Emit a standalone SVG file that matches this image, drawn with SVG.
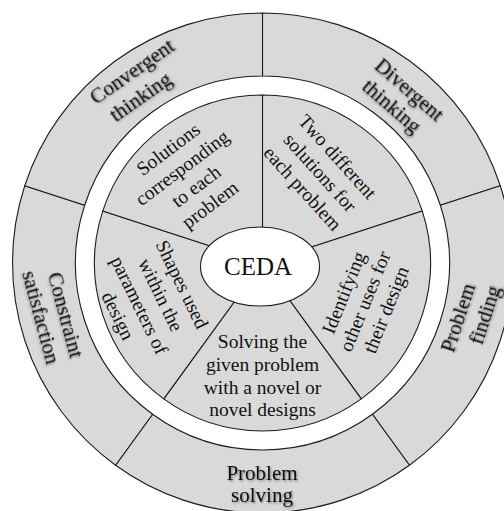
<svg xmlns="http://www.w3.org/2000/svg" width="504" height="511" viewBox="0 0 504 511">
  <style>
    .seg { fill: #d9d9d9; stroke: #1c1c1c; stroke-width: 1.1; stroke-linejoin: round; }
    .hub { fill: #ffffff; stroke: #1c1c1c; stroke-width: 1.1; }
    text { font-family: "Liberation Serif", "Times New Roman", serif; fill: #111111; text-anchor: middle; }
    .outer { font-size: 21px; filter: url(#soft); }
    .inner { font-size: 19.5px; }
    .core { font-size: 25px; }
  </style>
  <defs>
    <filter id="soft" x="-20%" y="-40%" width="140%" height="180%">
      <feDropShadow dx="1" dy="1.2" stdDeviation="1.1" flood-color="#000000" flood-opacity="0.45"/>
    </filter>
  </defs>

  <rect width="504" height="511" fill="#ffffff"/>

  <!-- outer ring: five stages of the process -->
  <g id="divergent-thinking">
    <path class="seg" d="M262.5,13 A250,250 0 0 1 500.26,185.75 L440.35,205.21 A187,187 0 0 0 262.5,76 Z"/>
    <text class="outer" transform="translate(409.5,89.5) rotate(41)" y="7">Divergent</text>
    <text class="outer" transform="translate(391.9,105.9) rotate(41)" y="7">thinking</text>
  </g>
  <g id="problem-finding">
    <path class="seg" d="M500.26,185.75 A250,250 0 0 1 409.45,465.25 L372.42,414.29 A187,187 0 0 0 440.35,205.21 Z"/>
    <text class="outer" transform="translate(457.8,317.8) rotate(-72)" y="7">Problem</text>
    <text class="outer" transform="translate(484.6,315) rotate(-72)" y="7">finding</text>
  </g>
  <g id="problem-solving">
    <path class="seg" d="M409.45,465.25 A250,250 0 0 1 115.55,465.25 L152.58,414.29 A187,187 0 0 0 372.42,414.29 Z"/>
    <text class="outer" x="262" y="479.5">Problem</text>
    <text class="outer" x="262" y="502">solving</text>
  </g>
  <g id="constraint-satisfaction">
    <path class="seg" d="M115.55,465.25 A250,250 0 0 1 24.74,185.75 L84.65,205.21 A187,187 0 0 0 152.58,414.29 Z"/>
    <text class="outer" transform="translate(65.8,314.8) rotate(75)" y="7">Constraint</text>
    <text class="outer" transform="translate(41.1,317.2) rotate(75)" y="7">satisfaction</text>
  </g>
  <g id="convergent-thinking">
    <path class="seg" d="M24.74,185.75 A250,250 0 0 1 262.5,13 L262.5,76 A187,187 0 0 0 84.65,205.21 Z"/>
    <text class="outer" transform="translate(131.8,71.4) rotate(-35)" y="7">Convergent</text>
    <text class="outer" transform="translate(140.3,96.7) rotate(-35)" y="7">thinking</text>
  </g>

  <!-- inner pie: observed design behaviours -->
  <g id="two-solutions">
    <path class="seg" d="M262.5,263 L262.5,95 A168,168 0 0 1 422.28,211.09 Z"/>
    <g transform="translate(320,172.7) rotate(48)">
      <text class="inner" x="0" y="-17.2">Two different</text>
      <text class="inner" x="0" y="6.4">solutions for</text>
      <text class="inner" x="0" y="30">each problem</text>
    </g>
  </g>
  <g id="other-uses">
    <path class="seg" d="M262.5,263 L422.28,211.09 A168,168 0 0 1 361.25,398.91 Z"/>
    <g transform="translate(365,301.3) rotate(-68)">
      <text class="inner" x="0" y="-16.4">Identifying</text>
      <text class="inner" x="0" y="6.4">other uses for</text>
      <text class="inner" x="0" y="29.2">their design</text>
    </g>
  </g>
  <g id="novel-designs">
    <path class="seg" d="M262.5,263 L361.25,398.91 A168,168 0 0 1 163.75,398.91 Z"/>
    <text class="inner" x="262.5" y="348">Solving the</text>
    <text class="inner" x="262.5" y="371">given problem</text>
    <text class="inner" x="262.5" y="393.5">with a novel or</text>
    <text class="inner" x="262.5" y="416">novel designs</text>
  </g>
  <g id="design-parameters">
    <path class="seg" d="M262.5,263 L163.75,398.91 A168,168 0 0 1 102.72,211.09 Z"/>
    <g transform="translate(150,300.1) rotate(64)">
      <text class="inner" x="0" y="-29.3">Shapes used</text>
      <text class="inner" x="0" y="-5.5">within the</text>
      <text class="inner" x="0" y="18.3">parameters of</text>
      <text class="inner" x="0" y="42.1">design</text>
    </g>
  </g>
  <g id="matching-solutions">
    <path class="seg" d="M262.5,263 L102.72,211.09 A168,168 0 0 1 262.5,95 Z"/>
    <g transform="translate(189.2,177) rotate(-37)">
      <text class="inner" x="0" y="-28.4">Solutions</text>
      <text class="inner" x="0" y="-5.2">corresponding</text>
      <text class="inner" x="0" y="18">to each</text>
      <text class="inner" x="0" y="41.2">problem</text>
    </g>
  </g>

  <!-- hub -->
  <g id="ceda">
    <ellipse class="hub" cx="260" cy="266.5" rx="59.5" ry="39.5"/>
    <text class="core" x="258" y="275">CEDA</text>
  </g>
</svg>
